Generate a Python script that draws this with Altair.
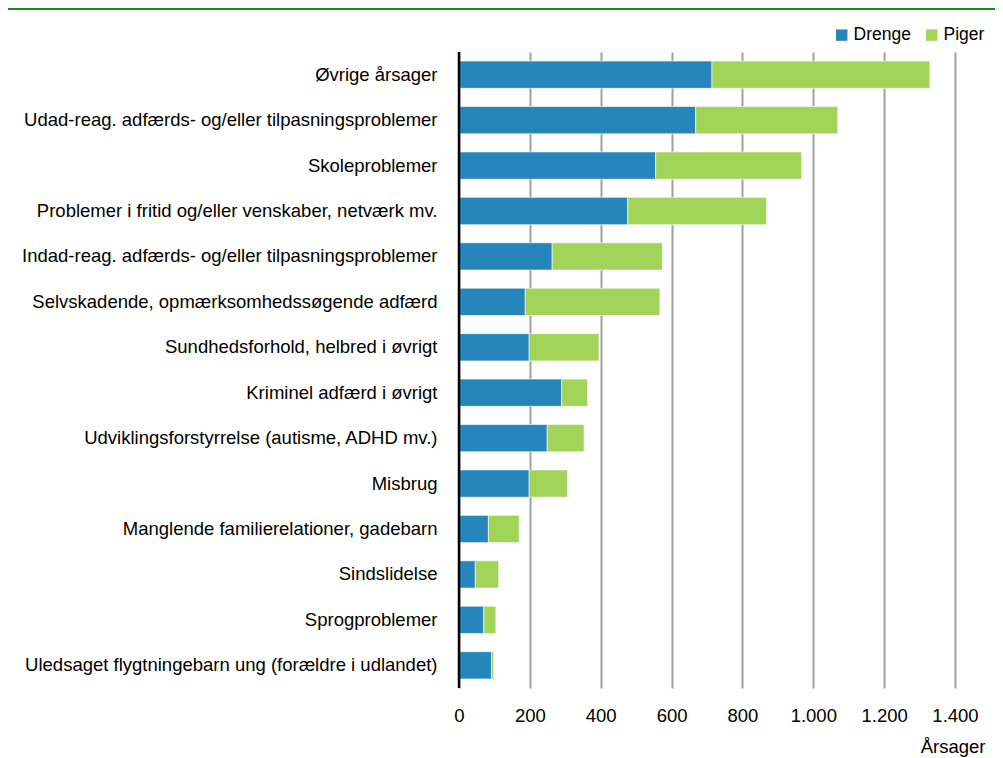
import altair as alt
import pandas as pd

categories = [
    "Øvrige årsager",
    "Udad-reag. adfærds- og/eller tilpasningsproblemer",
    "Skoleproblemer",
    "Problemer i fritid og/eller venskaber, netværk mv.",
    "Indad-reag. adfærds- og/eller tilpasningsproblemer",
    "Selvskadende, opmærksomhedssøgende adfærd",
    "Sundhedsforhold, helbred i øvrigt",
    "Kriminel adfærd i øvrigt",
    "Udviklingsforstyrrelse (autisme, ADHD mv.)",
    "Misbrug",
    "Manglende familierelationer, gadebarn",
    "Sindslidelse",
    "Sprogproblemer",
    "Uledsaget flygtningebarn ung (forældre i udlandet)",
]
drenge = [714, 668, 555, 476, 263, 187, 198, 290, 249, 198, 83, 46, 70, 92]
piger = [615, 401, 412, 392, 311, 380, 197, 73, 104, 108, 87, 66, 34, 6]
series = ["Drenge", "Piger"]
colors = ["#2685BA", "#A2D45A"]
x_ticks = [0, 200, 400, 600, 800, 1000, 1200, 1400]

rows = []
for c, d, p in zip(categories, drenge, piger):
    rows.append({"kategori": c, "køn": "Drenge", "antal": d, "orden": 0})
    rows.append({"kategori": c, "køn": "Piger", "antal": p, "orden": 1})
df = pd.DataFrame(rows)

FONT = "Liberation Sans"
FS = 18.5

bars = alt.Chart(df).mark_bar(stroke="white", strokeWidth=0.6).encode(
    y=alt.Y("kategori:N", sort=categories,
            scale=alt.Scale(paddingInner=0.4, paddingOuter=0.2),
            axis=alt.Axis(title=None, labelFontSize=FS, labelFont=FONT, labelColor="#000",
                          labelPadding=22, ticks=False, domain=False, labelLimit=500)),
    x=alt.X("antal:Q", stack="zero",
            scale=alt.Scale(domain=[0, 1400], nice=False),
            axis=alt.Axis(values=x_ticks, title="Årsager", titleFont=FONT, titleFontSize=FS,
                          titleFontWeight="normal", titleColor="#000",
                          titleX=526, titleY=64, titleAlign="right", titleBaseline="alphabetic",
                          labelExpr="replace(format(datum.value, ','), ',', '.')",
                          labelFlush=False, labelOverlap=False,
                          labelFont=FONT, labelFontSize=FS, labelColor="#000", labelPadding=18,
                          ticks=False, domain=False, grid=True, gridColor="#a0a0a0", gridWidth=2)),
    color=alt.Color("køn:N", scale=alt.Scale(domain=series, range=colors),
                    legend=alt.Legend(title=None, orient="none", legendX=374, legendY=-26,
                                      direction="horizontal", symbolType="square", symbolSize=130,
                                      symbolStrokeWidth=0, labelFont=FONT, labelFontSize=17.5,
                                      labelColor="#000", columnPadding=12, labelOffset=3)),
    order=alt.Order("orden:Q"),
)

axis_line = alt.Chart(pd.DataFrame({"v": [0]})).mark_rule(color="black", strokeWidth=2.5).encode(
    x=alt.X("v:Q"), y=alt.value(0), y2=alt.value(636)
)

top_line = alt.Chart(pd.DataFrame({"v": [0]})).mark_rule(color="#138a13", strokeWidth=2).encode(
    x=alt.value(-451), x2=alt.value(536), y=alt.value(-43)
)

chart = alt.layer(bars, axis_line, top_line).properties(
    width=496, height=636,
    autosize=alt.AutoSizeParams(type="none"),
    padding={"left": 451, "top": 44, "right": 40, "bottom": 70},
).configure_view(stroke=None)

chart.save("out.html", embed_options={"renderer": "svg", "actions": False})
